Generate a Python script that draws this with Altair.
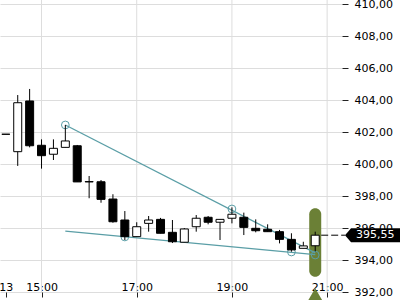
import altair as alt
import pandas as pd

# ---- data ----
idx    = list(range(27))
opens  = [401.86, 400.77, 403.94, 401.17, 400.61, 401.04, 401.14, 398.90, 398.89, 397.81,
          396.50, 395.46, 396.29, 396.54, 395.73, 395.11, 396.08, 396.67, 396.36, 396.61,
          396.67, 395.98, 395.92, 395.77, 395.29, 394.73, 394.89]
highs  = [401.86, 404.31, 404.69, 401.54, 401.54, 402.44, 401.19, 399.25, 399.00, 398.11,
          397.06, 396.36, 396.75, 396.63, 396.50, 396.00, 396.81, 396.75, 396.54, 397.29,
          396.96, 396.54, 396.23, 395.88, 395.67, 395.14, 395.77]
lows   = [401.86, 399.88, 401.04, 399.71, 400.25, 401.04, 398.88, 397.86, 397.58, 396.33,
          395.25, 395.46, 395.77, 395.67, 395.06, 395.11, 395.77, 396.23, 395.25, 396.29,
          395.56, 395.73, 395.77, 395.04, 394.52, 394.73, 394.54]
closes = [401.86, 403.83, 401.14, 400.52, 400.98, 401.44, 398.88, 398.88, 397.79, 396.39,
          395.46, 396.08, 396.50, 395.67, 395.14, 395.94, 396.61, 396.36, 396.54, 396.86,
          396.04, 395.83, 395.77, 395.29, 394.63, 394.88, 395.55]

tick_idx    = [0, 3, 11, 19, 27]
tick_labels = ["13", "15:00", "17:00", "19:00", "21:00"]
grid_idx    = [3, 11, 19, 27]
y_ticks     = [392, 394, 396, 398, 400, 402, 404, 406, 408, 410]

upper_line = {"i": [5, 26], "p": [402.44, 394.45]}
lower_line = {"i": [5, 26], "p": [395.81, 394.34]}
circle_i   = [5, 19, 10, 24, 26]
circle_p   = [402.44, 397.19, 395.44, 394.50, 394.31]

last_price = 395.55
pill_lo, pill_hi = 392.96, 397.23

TEAL = "#5a9ea6"
OLIVE = "#6b8036"
FONT = "DejaVu Sans"

df = pd.DataFrame({"i": idx, "o": opens, "h": highs, "l": lows, "c": closes})
df["up"] = df["c"] >= df["o"]

xs = alt.Scale(domain=[-0.49, 28.25], nice=False, zero=False, padding=0)
ys = alt.Scale(domain=[392, 410.25], nice=False, zero=False, padding=0)

label_map = "{" + ",".join(f"'{k}':'{v}'" for k, v in zip(tick_idx, tick_labels)) + "}"

x_axis = alt.Axis(values=tick_idx, labelExpr=f"{label_map}[datum.value]", grid=False,
                  domain=False, ticks=True, tickSize=5, tickColor="#222",
                  labelFont=FONT, labelFontSize=11, labelColor="#000",
                  labelBaseline="alphabetic", labelPadding=-7, labelFlush=False,
                  labelOverlap=False, title=None)
y_axis = alt.Axis(orient="right", values=y_ticks,
                  labelExpr="replace(format(datum.value, '.2f'), '.', ',')",
                  grid=True, gridColor="#dddddd", gridWidth=1, domain=False,
                  tickSize=6, tickColor="#222", labelPadding=6, labelOverlap=False,
                  labelFont=FONT, labelFontSize=11, labelColor="#000", title=None)


def X(f):
    return alt.X(f, scale=xs, axis=x_axis)


def Y(f):
    return alt.Y(f, scale=ys, axis=y_axis)


base = alt.Chart(df)

wicks = base.mark_rule(color="#000", strokeWidth=1).encode(
    x=X("i:Q"), y=Y("l:Q"), y2="h:Q")

# vertical grid lines
vgrid = alt.Chart(pd.DataFrame({"g": grid_idx})).mark_rule(color="#dddddd", strokeWidth=1).encode(
    x=X("g:Q"), y=alt.value(0), y2=alt.value(292))

# highlight pill for last candle
pill = alt.Chart(pd.DataFrame({"i": [idx[-1]], "lo": [pill_lo], "hi": [pill_hi]})).mark_bar(
    size=12, cornerRadius=6, color=OLIVE).encode(
    x=X("i:Q"), y=Y("lo:Q"), y2="hi:Q")

marker = alt.Chart(pd.DataFrame({"i": [idx[-1]]})).mark_point(
    shape="triangle-up", size=289, filled=True, color=OLIVE, opacity=1).encode(
    x=X("i:Q"), y=alt.value(295.5))

# trend lines
ul = alt.Chart(pd.DataFrame(upper_line)).mark_line(color=TEAL, strokeWidth=1.3).encode(
    x=X("i:Q"), y=Y("p:Q"))
ll = alt.Chart(pd.DataFrame(lower_line)).mark_line(color=TEAL, strokeWidth=1.3).encode(
    x=X("i:Q"), y=Y("p:Q"))
circles = alt.Chart(pd.DataFrame({"i": circle_i, "p": circle_p})).mark_point(
    shape="circle", size=60, filled=False, color=TEAL, strokeWidth=1, opacity=1).encode(
    x=X("i:Q"), y=Y("p:Q"))

bodies = base.mark_bar(size=8, stroke="#000", strokeWidth=1).encode(
    x=X("i:Q"), y=Y("o:Q"), y2="c:Q",
    fill=alt.condition("datum.up", alt.value("#ffffff"), alt.value("#000000")))

# last price line + tag
pl = pd.DataFrame({"x1": [idx[-1] + 0.5], "x2": [28.5], "p": [last_price],
                   "t": [f"{last_price:.2f}".replace(".", ",")]})
pline = alt.Chart(pl).mark_rule(color="#000", strokeWidth=1, strokeDash=[7, 3]).encode(
    x=X("x1:Q"), x2="x2:Q", y=Y("p:Q"))
tag = alt.Chart(pl).mark_point(
    shape="M-1,0L-0.78,-0.2545L1,-0.2545L1,0.2545L-0.78,0.2545Z",
    size=3025, filled=True, color="#000", opacity=1).encode(
    x=alt.value(372.5), y=Y("p:Q"))
tagtext = alt.Chart(pl).mark_text(align="left", baseline="middle", font=FONT,
                                  fontSize=11, color="#fff").encode(
    x=alt.value(356), y=Y("p:Q"), text="t:N")

chart = alt.layer(vgrid, pill, marker, ul, ll, circles, wicks, bodies, pline, tag, tagtext).properties(
    width=342, height=292,
    autosize=alt.AutoSizeParams(type="none"),
    padding={"left": 0, "top": 0, "right": 58, "bottom": 8},
    background="#ffffff",
).configure_view(stroke=None)

chart.save("out.html", embed_options={"renderer": "svg", "actions": False})
